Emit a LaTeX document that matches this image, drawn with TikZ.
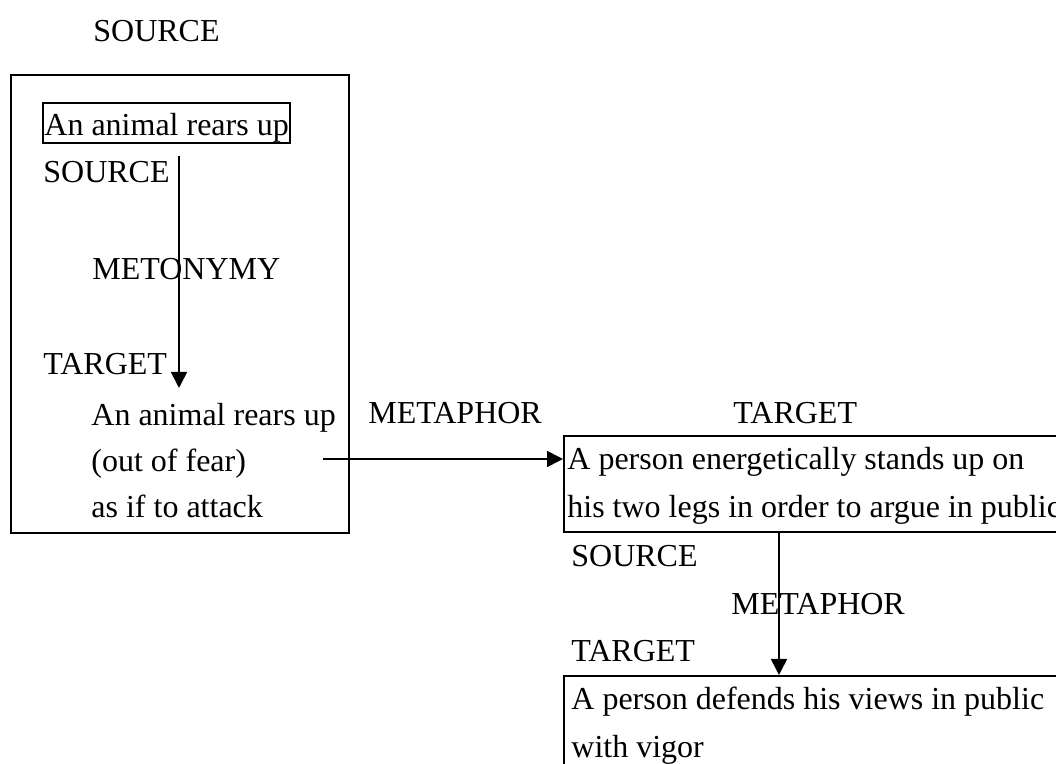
\documentclass[tikz,border=0pt]{standalone}
\usepackage{fontspec}
\setmainfont{Liberation Serif}
\usetikzlibrary{arrows.meta}

\begin{document}
\begin{tikzpicture}[x=0.5pt,y=-0.5pt,
  txt/.style={anchor=base west,inner sep=0pt,font=\fontsize{16}{19}\selectfont},
  frame/.style={draw,line width=0.9pt,anchor=north west,inner sep=0pt},
  arr/.style={line width=0.8pt,-{Triangle[length=8pt,width=8pt]}}]
\clip (0,0) rectangle (1056,764);

% left frame: metonymy
\node [frame,minimum width=169pt,minimum height=229pt] (animalbox) at (10,74) {};
\node [txt] (src_top) at (93,42) {SOURCE};
\node [txt,draw,line width=0.9pt,inner xsep=0.75pt,text height=16.5pt,text depth=3.5pt] (rearbox) at (42,136) {An animal rears up};
\node [txt] (src_a) at (43,183) {SOURCE};
\node [txt] (meto) at (92,280) {METONYMY};
\node [txt] (tgt_a) at (43,375) {TARGET};
\node [txt] (rear_1) at (91,426) {An animal rears up};
\node [txt] (rear_2) at (91,472) {(out of fear)};
\node [txt] (rear_3) at (91,518) {as if to attack};
\coordinate (m_1) at (179,156);
\coordinate (m_2) at (179,388);
\draw [arr] (m_1) -- (m_2);

% metaphor 1
\node [txt] (meta_a) at (368,424) {METAPHOR};
\node [txt] (tgt_b) at (733,424) {TARGET};
\node [frame,minimum width=268.5pt,minimum height=48pt] (standbox) at (563,435) {};
\node [txt] (stand_1) at (567,470) {A person energetically stands up on};
\node [txt] (stand_2) at (567,518) {his two legs in order to argue in public};
\coordinate (fear) at (323,459);
\draw [arr] (fear) -- (fear -| standbox.west);

% metaphor 2
\node [txt] (src_b) at (571,567) {SOURCE};
\node [txt] (meta_b) at (731,615) {METAPHOR};
\node [txt] (tgt_c) at (571,662) {TARGET};
\node [frame,minimum width=268.5pt,minimum height=50pt] (defendbox) at (563,675) {};
\node [txt] (defend_1) at (571,710) {A person defends his views in public};
\node [txt] (defend_2) at (571,757) {with vigor};
\draw [arr] ([xshift=108pt]standbox.south west) -- ([xshift=108pt]defendbox.north west);
\end{tikzpicture}
\end{document}
